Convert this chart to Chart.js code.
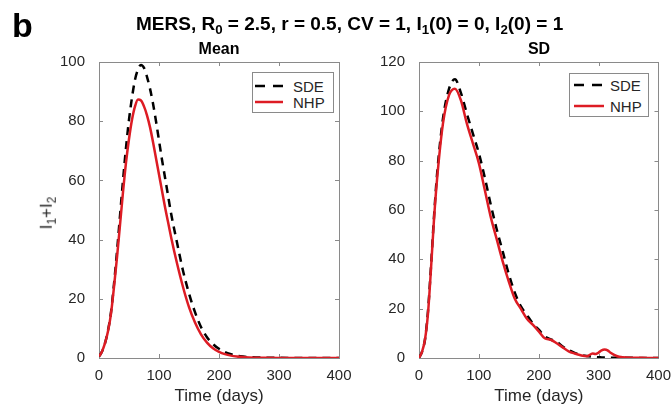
<!DOCTYPE html>
<html>
<head>
<meta charset="utf-8">
<script src="https://cdn.jsdelivr.net/npm/chart.js@4.4.1/dist/chart.umd.min.js"></script>
<style>
    body { margin: 0; background: #fff; }
    #wrap { position: relative; width: 672px; height: 410px; overflow: hidden; font-family: "Liberation Sans", Arial, sans-serif; color: #000; }
    canvas { position: absolute; left: 0; top: 0; }
    .txt { position: absolute; white-space: nowrap; line-height: 1; }
    .sub { font-size: 0.7em; vertical-align: -0.3em; }
    .leyenda { position: absolute; border: 1px solid #8a8a8a; background: #fff; box-sizing: border-box; }
    .leyenda svg { position: absolute; }
    .leyenda span { position: absolute; font-size: 15px; line-height: 1; color: #262626; }
</style>
</head>
<body>
<div id="wrap">
    <canvas id="graficaMedia" width="672" height="410"></canvas>
    <canvas id="graficaSD" width="672" height="410"></canvas>

    <div class="txt" style="left:12px; top:8px; font-size:34px; font-weight:bold;">b</div>
    <div class="txt" style="left:136px; top:14px; font-size:19px; font-weight:bold;">MERS, R<span class="sub">0</span> = 2.5, r = 0.5, CV = 1, I<span class="sub">1</span>(0) = 0, I<span class="sub">2</span>(0) = 1</div>
    <div class="txt" style="left:219px; top:41px; font-size:16px; font-weight:bold; transform:translateX(-50%);">Mean</div>
    <div class="txt" style="left:539px; top:41px; font-size:16px; font-weight:bold; transform:translateX(-50%);">SD</div>
    <div class="txt" style="left:48px; top:213px; font-size:17px; color:#262626; transform:translate(-50%,-50%) rotate(-90deg);">I<span class="sub">1</span>+I<span class="sub">2</span></div>

    <div id="leyendaMedia" class="leyenda" style="left:252px; top:72px; width:82px; height:41px;"></div>
    <div id="leyendaSD" class="leyenda" style="left:569px; top:73px; width:80px; height:44px;"></div>
</div>

<script>
// series
const nombresSeries = ["SDE", "NHP"];

// panel izquierdo: media de I1+I2
const diasMedia = [0, 5, 10, 15, 20, 25, 30, 35, 40, 45, 50, 55, 60, 65, 70, 75, 80, 85, 90, 95, 100, 105, 110, 115, 120,
    130, 140, 150, 160, 170, 180, 190, 200, 210, 220, 230, 240, 250, 275, 300, 350, 400];
const mediaSDE = [0.5, 2.2, 5, 9.3, 15.5, 25, 36, 48, 60, 71, 80.5, 88, 94, 97.5, 99, 98, 95, 91, 86, 80, 73.5, 67, 61, 55, 49,
    39, 29.5, 21.8, 15.5, 10.5, 7, 4.7, 3.1, 2, 1.3, 0.8, 0.5, 0.3, 0.12, 0.05, 0.01, 0];
const mediaNHP = [0.5, 2.2, 5, 9, 15, 24, 34, 45, 56, 66, 74, 80.5, 85, 87.3, 87, 85, 82, 78, 73, 67.5, 62, 56.5, 51, 46, 41,
    32, 24, 17.2, 12, 8, 5.2, 3.3, 2.1, 1.3, 0.8, 0.5, 0.3, 0.2, 0.08, 0.03, 0.01, 0];

// panel derecho: desviación estándar
const diasSD = [0, 5, 10, 15, 20, 25, 30, 40, 50, 60, 70, 80, 90, 100, 110, 120, 130, 140, 150, 160, 170, 180, 190, 200,
    210, 220, 230, 240, 250, 260, 270, 280, 290, 295, 300, 305, 310, 315, 320, 330, 340, 360, 380, 400];
const sdSDE = [0, 2.5, 7.5, 19, 37, 57, 74, 97, 109, 113, 107.5, 99, 91, 83, 73, 62, 52, 43, 34, 26.5, 21, 17.5, 14, 11.5,
    8.8, 7.5, 6.6, 4.7, 3.2, 2.1, 1.3, 0.8, 0.5, 0.4, 0.3, 0.25, 0.2, 0.2, 0.15, 0.1, 0.08, 0.05, 0.02, 0];
const sdNHP = [0, 2.5, 7.5, 18, 36, 56, 72, 95, 106.5, 109.2, 104.5, 95, 87, 79, 68, 57, 48, 39, 31, 24, 20, 16, 13.5, 10.8,
    8, 7.4, 6, 4.3, 2.7, 1.8, 1.1, 0.7, 1.8, 1.6, 2.2, 3.1, 3.4, 3.1, 2.1, 0.8, 0.3, 0.1, 0.05, 0];

// ejes
const ticksX = [0, 100, 200, 300, 400];
const ticksMedia = [0, 20, 40, 60, 80, 100];
const ticksSD = [0, 20, 40, 60, 80, 100, 120];

const colorSDE = "#000000";
const colorNHP = "#dd1c24";
const colorMarco = "#8a8a8a";
const colorTexto = "#262626";

// marco completo con ticks hacia adentro (estilo MATLAB)
const pluginMarco = {
    id: "marco",
    beforeDatasetsDraw(chart) {
        const ctx = chart.ctx;
        const a = chart.chartArea;
        const sx = chart.scales.x;
        const sy = chart.scales.y;
        const largo = 4;
        ctx.save();
        ctx.strokeStyle = colorMarco;
        ctx.lineWidth = 1;
        ctx.strokeRect(Math.round(a.left) + 0.5, Math.round(a.top) + 0.5, Math.round(a.width), Math.round(a.height));
        ctx.beginPath();
        sx.ticks.forEach(t => {
            const px = Math.round(sx.getPixelForValue(t.value)) + 0.5;
            ctx.moveTo(px, a.bottom); ctx.lineTo(px, a.bottom - largo);
            ctx.moveTo(px, a.top); ctx.lineTo(px, a.top + largo);
        });
        sy.ticks.forEach(t => {
            const py = Math.round(sy.getPixelForValue(t.value)) + 0.5;
            ctx.moveTo(a.left, py); ctx.lineTo(a.left + largo, py);
            ctx.moveTo(a.right, py); ctx.lineTo(a.right - largo, py);
        });
        ctx.stroke();
        ctx.restore();
    }
};

function crearDatasets(dias, valoresSDE, valoresNHP) {
    return [
        {
            label: nombresSeries[0],
            data: dias.map((d, i) => ({ x: d, y: valoresSDE[i] })),
            borderColor: colorSDE,
            borderWidth: 2.5,
            borderDash: [8, 6],
            pointRadius: 0,
            cubicInterpolationMode: "monotone",
            order: 2
        },
        {
            label: nombresSeries[1],
            data: dias.map((d, i) => ({ x: d, y: valoresNHP[i] })),
            borderColor: colorNHP,
            borderWidth: 2.5,
            pointRadius: 0,
            cubicInterpolationMode: "monotone",
            order: 1
        }
    ];
}

function crearGrafica(idCanvas, dias, valoresSDE, valoresNHP, ticksY, area) {
    const maxY = ticksY[ticksY.length - 1];
    return new Chart(document.getElementById(idCanvas), {
        type: "line",
        data: { datasets: crearDatasets(dias, valoresSDE, valoresNHP) },
        options: {
            responsive: false,
            animation: false,
            events: [],
            layout: { padding: { top: area.top, right: 672 - area.right, bottom: 0, left: 0 } },
            plugins: { legend: { display: false }, tooltip: { enabled: false } },
            scales: {
                x: {
                    type: "linear",
                    min: 0,
                    max: 400,
                    afterBuildTicks: s => { s.ticks = ticksX.map(v => ({ value: v })); },
                    afterFit: s => { s.height = 410 - area.bottom; },
                    grid: { display: false },
                    border: { display: false },
                    ticks: { padding: 1, color: colorTexto, font: { family: "Liberation Sans", size: 15 } },
                    title: {
                        display: true,
                        text: "Time (days)",
                        color: colorTexto,
                        padding: { top: 0, bottom: 3 },
                        font: { family: "Liberation Sans", size: 17 }
                    }
                },
                y: {
                    min: 0,
                    max: maxY,
                    afterBuildTicks: s => { s.ticks = ticksY.map(v => ({ value: v })); },
                    afterFit: s => { s.width = area.left; },
                    grid: { display: false },
                    border: { display: false },
                    ticks: { padding: 6, color: colorTexto, font: { family: "Liberation Sans", size: 15 } }
                }
            }
        },
        plugins: [pluginMarco]
    });
}

function crearLeyenda(idDiv, filas, muestraX, muestraAncho, textoX) {
    const caja = document.getElementById(idDiv);
    nombresSeries.forEach((nombre, i) => {
        const y = filas[i];
        const svg = document.createElementNS("http://www.w3.org/2000/svg", "svg");
        svg.setAttribute("width", muestraAncho);
        svg.setAttribute("height", 6);
        svg.style.left = muestraX + "px";
        svg.style.top = (y - 3) + "px";
        const linea = document.createElementNS("http://www.w3.org/2000/svg", "line");
        linea.setAttribute("x1", 0); linea.setAttribute("x2", muestraAncho);
        linea.setAttribute("y1", 3); linea.setAttribute("y2", 3);
        linea.setAttribute("stroke", i === 0 ? colorSDE : colorNHP);
        linea.setAttribute("stroke-width", 2.5);
        if (i === 0) linea.setAttribute("stroke-dasharray", "10 8");
        svg.appendChild(linea);
        caja.appendChild(svg);

        const texto = document.createElement("span");
        texto.textContent = nombre;
        texto.style.left = textoX + "px";
        texto.style.top = (y - 7.5) + "px";
        caja.appendChild(texto);
    });
}

crearGrafica("graficaMedia", diasMedia, mediaSDE, mediaNHP, ticksMedia, { left: 99, right: 339, top: 62, bottom: 358 });
crearGrafica("graficaSD", diasSD, sdSDE, sdNHP, ticksSD, { left: 419, right: 659, top: 62, bottom: 358 });

crearLeyenda("leyendaMedia", [13, 29], 2, 28, 40);
crearLeyenda("leyendaSD", [11, 32], 4, 30, 40);
</script>
</body>
</html>
